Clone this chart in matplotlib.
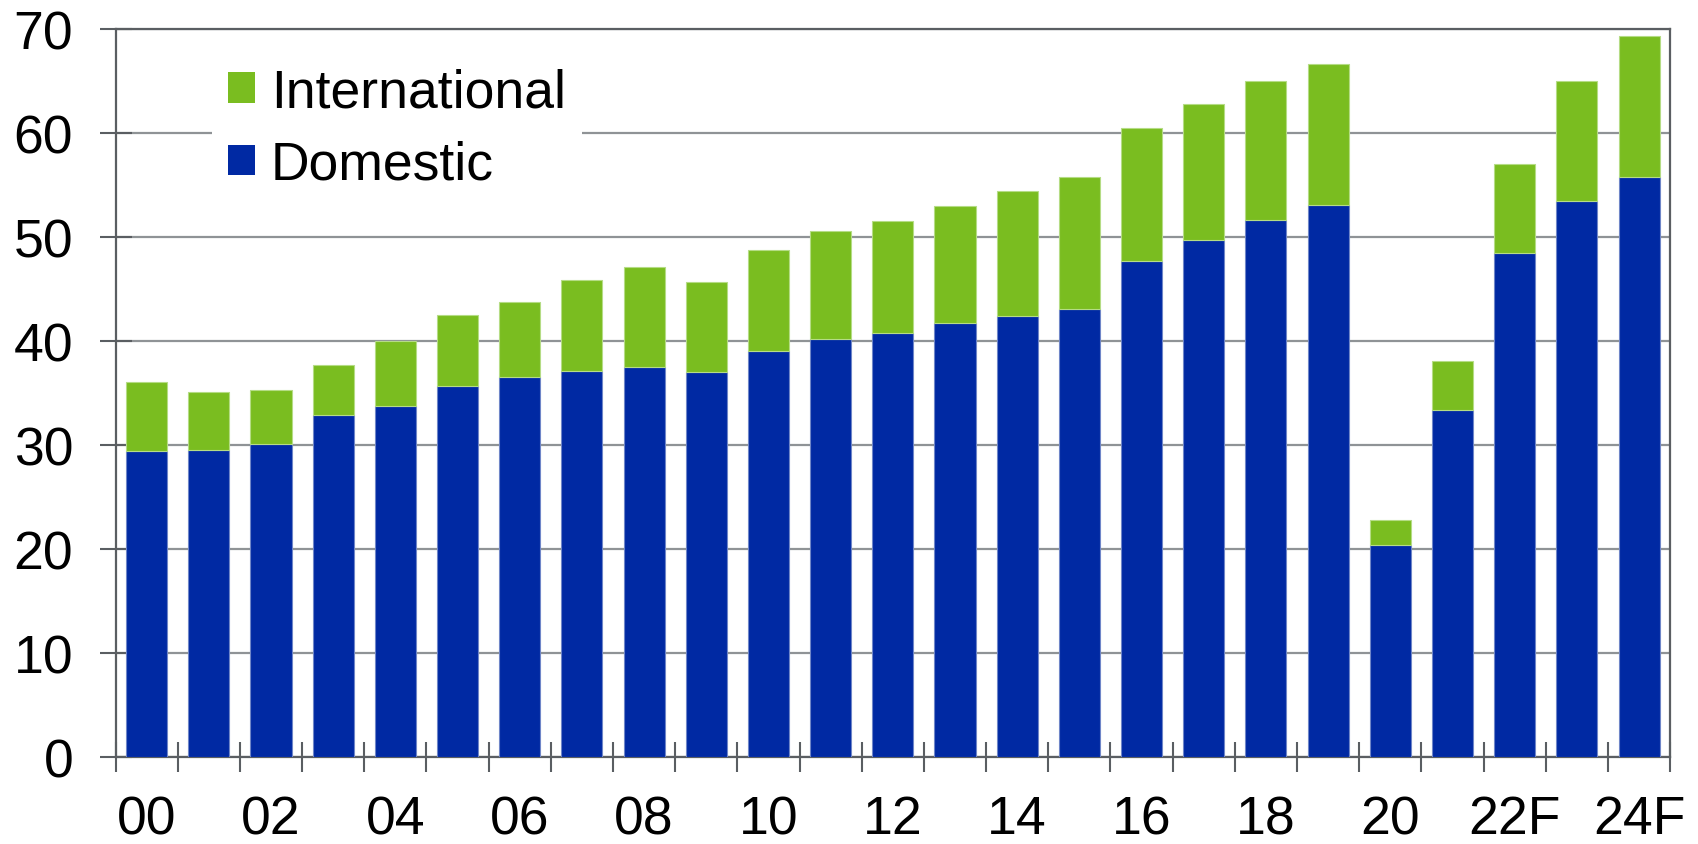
import matplotlib
matplotlib.use("Agg")
import matplotlib.pyplot as plt
from matplotlib.patches import Patch
import numpy as np

years = ['00', '01', '02', '03', '04', '05', '06', '07', '08', '09', '10', '11', '12',
         '13', '14', '15', '16', '17', '18', '19', '20', '21', '22F', '23F', '24F']
domestic = [29.4, 29.5, 30.1, 32.9, 33.75, 35.7, 36.5, 37.1, 37.5, 37.0, 39.0, 40.2, 40.8,
            41.7, 42.4, 43.1, 47.7, 49.7, 51.6, 53.1, 20.4, 33.4, 48.5, 53.5, 55.8]
total = [36.1, 35.1, 35.3, 37.7, 40.0, 42.5, 43.75, 45.9, 47.1, 45.7, 48.75, 50.6, 51.5,
         53.0, 54.4, 55.8, 60.5, 62.8, 65.0, 66.6, 22.8, 38.1, 57.0, 65.0, 69.3]
international = [t - d for t, d in zip(total, domestic)]

blue = '#0029a3'
green = '#7abd20'
axis_col = '#5a5e62'
grid_col = '#8f9396'

plt.rcParams['font.family'] = ['Liberation Sans', 'DejaVu Sans']

fig = plt.figure(figsize=(16.99, 8.45), dpi=100)
ax = fig.add_axes([0.068, 0.103, 0.915, 0.8615])

x = np.arange(len(years))
ax.bar(x, domestic, width=0.66, color=blue, edgecolor='#6f86c8', linewidth=0.8, zorder=3)
ax.bar(x, international, bottom=domestic, width=0.66, color=green,
       edgecolor='#b5dc85', linewidth=0.8, zorder=3)

ax.set_xlim(-0.5, len(years) - 0.5)
ax.set_ylim(0, 70)
ax.set_yticks(range(0, 71, 10))
ax.yaxis.grid(True, color=grid_col, linewidth=1.6, zorder=0)
ax.set_axisbelow(True)

ax.set_xticks(x[::2])
ax.set_xticklabels(years[::2])
ax.set_xticks(np.arange(-0.5, len(years), 1), minor=True)
ax.tick_params(axis='x', which='major', length=0, pad=27, labelsize=38.5)
ax.tick_params(axis='x', which='minor', direction='inout', length=22, width=1.5, color=axis_col)
ax.tick_params(axis='y', direction='inout', length=23, width=1.5, color=axis_col,
               pad=19, labelsize=38.5)

for s in ax.spines.values():
    s.set_color(axis_col)
    s.set_linewidth(1.6)

handles = [Patch(facecolor=green, edgecolor='none', label='International'),
           Patch(facecolor=blue, edgecolor='none', label='Domestic')]
leg = ax.legend(handles=handles, loc='upper left', bbox_to_anchor=(0.045, 1.006),
                fontsize=38.5, frameon=True, facecolor='white', edgecolor='none',
                framealpha=1, fancybox=False, handlelength=0.5, handleheight=0.5,
                handletextpad=0.3, labelspacing=0.42, borderpad=0.3)
leg.set_zorder(5)

fig.savefig('out.png', dpi=100)
